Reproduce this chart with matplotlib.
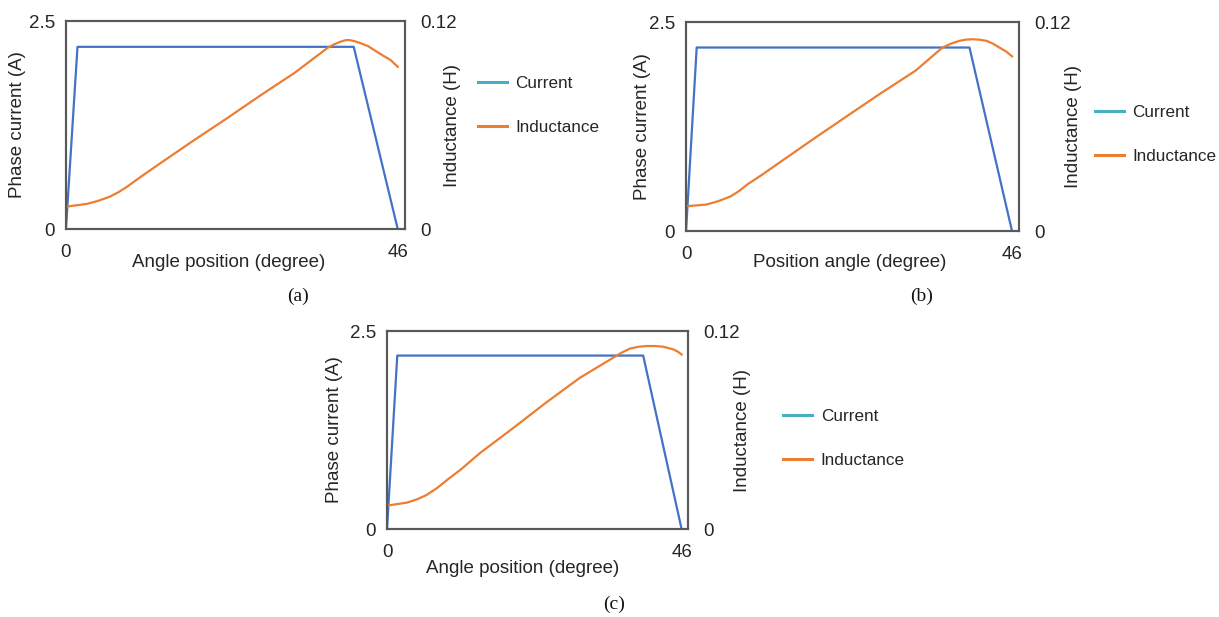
import matplotlib.pyplot as plt
from matplotlib.lines import Line2D

plt.rcParams['font.family'] = ['Liberation Sans', 'DejaVu Sans']

# current waveform (same shape in all three panels)
cur_x_a = [0, 1.6, 39.9, 46]
cur_y_a = [0, 2.19, 2.19, 0]
cur_x_b = [0, 1.5, 40.0, 46]
cur_y_b = [0, 2.195, 2.195, 0]
cur_x_c = [0, 1.6, 40.0, 46]
cur_y_c = [0, 2.19, 2.19, 0]

# inductance profiles
ind_x_a = [0, 2.9, 4.5, 6.1, 7.3, 8.5, 10.5, 13.1, 17.7, 22.4, 27.0, 31.7, 36.3, 37.2, 38.0,
           38.8, 39.3, 40.0, 40.8, 41.9, 43.7, 45.0, 46.0]
ind_y_a = [0.0129, 0.0145, 0.0163, 0.0187, 0.0213, 0.0245, 0.0305, 0.0380, 0.0511, 0.0641,
           0.0772, 0.0901, 0.1046, 0.1066, 0.1080, 0.1090, 0.1090, 0.1084, 0.1073, 0.1055,
           0.1007, 0.0975, 0.0936]
ind_x_b = [0, 2.9, 4.6, 6.3, 7.5, 8.6, 10.8, 13.4, 18.1, 22.9, 27.6, 32.4, 36.2, 37.4, 38.6,
           39.5, 40.5, 41.5, 42.4, 43.3, 44.2, 45.2, 46.0]
ind_y_b = [0.0142, 0.0152, 0.0172, 0.0199, 0.0230, 0.0266, 0.0325, 0.0399, 0.0532, 0.0665,
           0.0794, 0.0921, 0.1054, 0.1076, 0.1092, 0.1099, 0.1101, 0.1098, 0.1092, 0.1076,
           0.1054, 0.1030, 0.1003]
ind_x_c = [0, 3.1, 4.7, 6.2, 7.8, 9.4, 11.5, 14.5, 19.7, 24.9, 30.1, 35.3, 36.6, 37.9, 39.2,
           40.5, 41.8, 43.1, 44.7, 45.4, 46.0]
ind_y_c = [0.0142, 0.0160, 0.0180, 0.0207, 0.0248, 0.0298, 0.0360, 0.0460, 0.0612, 0.0768,
           0.0916, 0.1038, 0.1068, 0.1093, 0.1104, 0.1109, 0.1109, 0.1105, 0.1089, 0.1075,
           0.1058]

xlabels = ["Angle position (degree)", "Position angle (degree)", "Angle position (degree)"]
captions = ["(a)", "(b)", "(c)"]
series_names = ["Current", "Inductance"]

blue = '#4472c4'
teal = '#4bacc6'
orange = '#ed7d31'
txt = '#262626'
fs = 13.5

fig = plt.figure(figsize=(12.19, 6.17), dpi=100)

# [rect, xlabel coords, left ylabel x, right ylabel x, legend anchor]
panels = [
    ([0.0541, 0.6288, 0.2781, 0.3371], (0.48, -0.12), -0.118, 1.115, (1.215, 0.596)),
    ([0.5628, 0.6256, 0.2732, 0.3387], (0.49, -0.11), -0.105, 1.138, (1.228, 0.462)),
    ([0.3175, 0.1426, 0.2469, 0.3209], (0.45, -0.155), -0.146, 1.153, (1.316, 0.457)),
]
cur = [(cur_x_a, cur_y_a), (cur_x_b, cur_y_b), (cur_x_c, cur_y_c)]
ind = [(ind_x_a, ind_y_a), (ind_x_b, ind_y_b), (ind_x_c, ind_y_c)]

for i in range(3):
    rect, xl, yl, yr, leg = panels[i]
    ax = fig.add_axes(rect)
    ax.plot(cur[i][0], cur[i][1], color=blue, lw=1.6)
    ax.set_xlim(0, 47)
    ax.set_ylim(0, 2.5)
    ax.set_xticks([0, 46])
    ax.set_yticks([0, 2.5])
    ax.set_yticklabels(["0", "2.5"])
    ax.tick_params(length=0, labelsize=fs, colors=txt, pad=8)
    ax.tick_params(axis='x', pad=11)
    for s in ax.spines.values():
        s.set_color('#595959')
        s.set_linewidth(1.5)
    ax.set_xlabel(xlabels[i], fontsize=fs, color=txt)
    ax.xaxis.set_label_coords(*xl)
    ax.set_ylabel("Phase current (A)", fontsize=fs, color=txt)
    ax.yaxis.set_label_coords(yl, 0.5)

    ax2 = ax.twinx()
    ax2.plot(ind[i][0], ind[i][1], color=orange, lw=1.6)
    ax2.set_ylim(0, 0.12)
    ax2.set_yticks([0, 0.12])
    ax2.set_yticklabels(["0", "0.12"])
    ax2.tick_params(length=0, labelsize=fs, colors=txt, pad=11)
    for s in ax2.spines.values():
        s.set_color('#595959')
        s.set_linewidth(1.5)
    ax2.set_ylabel("Inductance (H)", fontsize=fs, color=txt)
    ax2.yaxis.set_label_coords(yr, 0.5)

    handles = [Line2D([], [], color=teal, lw=2.2), Line2D([], [], color=orange, lw=2.2)]
    ax2.legend(handles, series_names, loc='center left', bbox_to_anchor=leg,
               frameon=False, fontsize=12.3, handlelength=1.7, handletextpad=0.5,
               labelspacing=1.7, borderpad=0, borderaxespad=0, labelcolor=txt)

cap_pos = [(298, 296), (922, 296), (614, 604)]
for i in range(3):
    fig.text(cap_pos[i][0] / 1219, 1 - cap_pos[i][1] / 617, captions[i], ha='center', va='center',
             family=['Liberation Serif', 'DejaVu Serif'], fontsize=14, color='#111111')

fig.savefig('out.png', dpi=100)
